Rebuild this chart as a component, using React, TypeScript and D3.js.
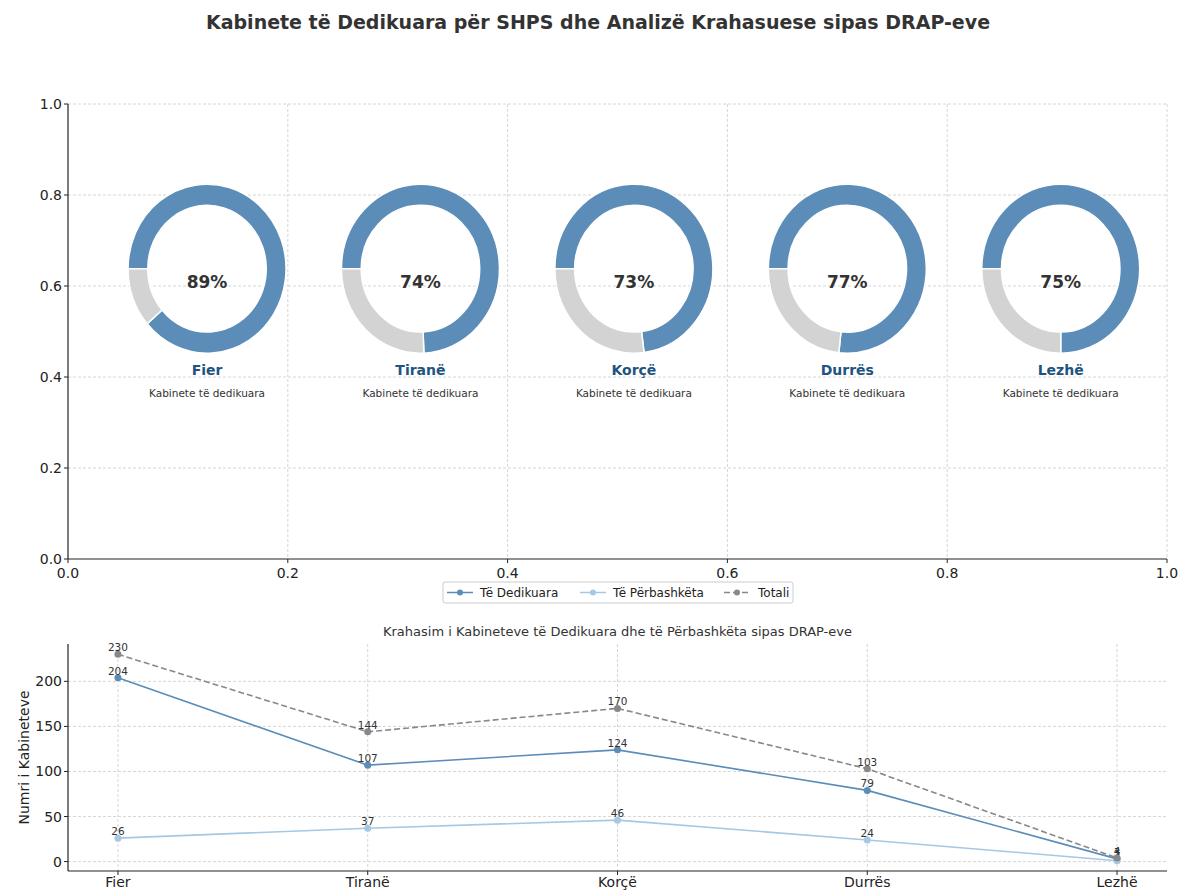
import * as d3 from "d3";

const regions = ["Fier", "Tiranë", "Korçë", "Durrës", "Lezhë"];
const dedicated = [204, 107, 124, 79, 3];
const shared = [26, 37, 46, 24, 1];
const totals = [230, 144, 170, 103, 4];
const unitTicks = [0, 0.2, 0.4, 0.6, 0.8, 1.0];
const countTicks = [0, 50, 100, 150, 200];

const W = 1182;
const H = 890;
const FONT = "DejaVu Sans, sans-serif";
const BLUE = "#5B8DB8";
const LIGHT = "#A6C8E2";
const GREY = "#888888";

const App = () => {
    // top panel (empty axes holding the donuts)
    const top = { left: 68, right: 1167, top: 104, bottom: 559 };
    const tx = d3.scaleLinear().domain([0, 1]).range([top.left, top.right]);
    const ty = d3.scaleLinear().domain([0, 1]).range([top.bottom, top.top]);

    // bottom panel (line chart)
    const bot = { left: 68, right: 1167, top: 644, bottom: 871 };
    const bx = d3.scaleLinear().domain([-0.2, regions.length - 1 + 0.2]).range([bot.left, bot.right]);
    const by = d3.scaleLinear().domain([-10.45, 241.45]).range([bot.bottom, bot.top]);

    const pie = d3.pie<number>().sort(null).startAngle(-Math.PI / 2).endAngle(Math.PI * 1.5);
    const arc = d3.arc<d3.PieArcDatum<number>>().innerRadius(0.75).outerRadius(1);

    const line = d3.line<number>().x((_, i) => bx(i)).y(d => by(d));

    const series = [
        { name: "Të Dedikuara", values: dedicated, color: BLUE, dash: "" },
        { name: "Të Përbashkëta", values: shared, color: LIGHT, dash: "" },
        { name: "Totali", values: totals, color: GREY, dash: "6,3" },
    ];

    const legendItems = [
        { x: 447, textX: 480 },
        { x: 580, textX: 613 },
        { x: 724, textX: 758 },
    ];

    return (
        <svg width={W} height={H} style={{ display: "block", position: "absolute", left: 0, top: 0, background: "#fff" }} fontFamily={FONT}>
            <text x={598} y={29} textAnchor="middle" fontSize={19} fontWeight="bold" fill="#333">
                Kabinete të Dedikuara për SHPS dhe Analizë Krahasuese sipas DRAP-eve
            </text>

            {/* top grid */}
            {unitTicks.slice(1).map(t => (
                <g key={"tg" + t}>
                    <line x1={tx(t)} x2={tx(t)} y1={top.top} y2={top.bottom} stroke="#ccc" strokeWidth={0.8} strokeDasharray="3,2" />
                    <line x1={top.left} x2={top.right} y1={ty(t)} y2={ty(t)} stroke="#ccc" strokeWidth={0.8} strokeDasharray="3,2" />
                </g>
            ))}
            <line x1={top.left} x2={top.left} y1={top.top} y2={top.bottom} stroke="#222" strokeWidth={1.2} />
            <line x1={top.left} x2={top.right} y1={top.bottom} y2={top.bottom} stroke="#222" strokeWidth={1.2} />
            {unitTicks.map(t => (
                <g key={"tt" + t} fontSize={14} fill="#222">
                    <line x1={top.left - 4} x2={top.left} y1={ty(t)} y2={ty(t)} stroke="#222" />
                    <text x={top.left - 6} y={ty(t) + 5} textAnchor="end">{t.toFixed(1)}</text>
                    <line x1={tx(t)} x2={tx(t)} y1={top.bottom} y2={top.bottom + 4} stroke="#222" />
                    <text x={tx(t)} y={top.bottom + 19} textAnchor="middle">{t.toFixed(1)}</text>
                </g>
            ))}

            {/* donuts */}
            {regions.map((r, i) => {
                const cx = tx(0.1265 + i * 0.1942);
                const cy = ty(0.638);
                const pct = Math.round((dedicated[i] / totals[i]) * 100);
                const arcs = pie([dedicated[i], totals[i] - dedicated[i]]);
                return (
                    <g key={r}>
                        <g transform={`translate(${cx},${cy}) scale(79,84.5)`}>
                            {arcs.map((a, k) => (
                                <path key={k} d={arc(a) || ""} fill={k === 0 ? BLUE : "#D3D3D3"} stroke="#fff" strokeWidth={1.5} vectorEffect="non-scaling-stroke" />
                            ))}
                        </g>
                        <text x={cx} y={cy + 19} textAnchor="middle" fontSize={17} fontWeight="bold" fill="#333">{pct}%</text>
                        <text x={cx} y={cy + 106} textAnchor="middle" fontSize={14} fontWeight="bold" fill="#1F5380">{r}</text>
                        <text x={cx} y={cy + 128} textAnchor="middle" fontSize={10.5} fill="#333">Kabinete të dedikuara</text>
                    </g>
                );
            })}

            {/* legend */}
            <rect x={443} y={582} width={350} height={21} fill="#fff" stroke="#ccc" strokeWidth={1} rx={2} />
            {series.map((s, i) => (
                <g key={"lg" + s.name}>
                    <line x1={legendItems[i].x} x2={legendItems[i].x + 26} y1={592.5} y2={592.5} stroke={s.color} strokeWidth={1.5} strokeDasharray={s.dash} />
                    <circle cx={legendItems[i].x + 13} cy={592.5} r={3} fill={s.color} />
                    <text x={legendItems[i].textX} y={597} fontSize={12} fill="#222">{s.name}</text>
                </g>
            ))}

            {/* bottom chart */}
            <text x={(bot.left + bot.right) / 2} y={636} textAnchor="middle" fontSize={13} fill="#333">
                Krahasim i Kabineteve të Dedikuara dhe të Përbashkëta sipas DRAP-eve
            </text>
            {regions.map((r, i) => (
                <line key={"bgx" + r} x1={bx(i)} x2={bx(i)} y1={bot.top} y2={bot.bottom} stroke="#ccc" strokeWidth={0.8} strokeDasharray="3,2" />
            ))}
            {countTicks.map(t => (
                <line key={"bgy" + t} x1={bot.left} x2={bot.right} y1={by(t)} y2={by(t)} stroke="#ccc" strokeWidth={0.8} strokeDasharray="3,2" />
            ))}
            <line x1={bot.left} x2={bot.left} y1={bot.top} y2={bot.bottom} stroke="#222" strokeWidth={1.2} />
            <line x1={bot.left} x2={bot.right} y1={bot.bottom} y2={bot.bottom} stroke="#222" strokeWidth={1.2} />
            {countTicks.map(t => (
                <g key={"byt" + t}>
                    <line x1={bot.left - 4} x2={bot.left} y1={by(t)} y2={by(t)} stroke="#222" />
                    <text x={bot.left - 6} y={by(t) + 5} textAnchor="end" fontSize={14} fill="#222">{t}</text>
                </g>
            ))}
            {regions.map((r, i) => (
                <g key={"bxt" + r}>
                    <line x1={bx(i)} x2={bx(i)} y1={bot.bottom} y2={bot.bottom + 4} stroke="#222" />
                    <text x={bx(i)} y={bot.bottom + 16} textAnchor="middle" fontSize={14} fill="#222">{r}</text>
                </g>
            ))}
            <text transform={`translate(29,${(bot.top + bot.bottom) / 2}) rotate(-90)`} textAnchor="middle" fontSize={14} fill="#222">
                Numri i Kabineteve
            </text>

            {series.map(s => (
                <g key={"s" + s.name}>
                    <path d={line(s.values) || ""} fill="none" stroke={s.color} strokeWidth={1.6} strokeDasharray={s.dash} />
                    {s.values.map((v, i) => (
                        <g key={i}>
                            <circle cx={bx(i)} cy={by(v)} r={3.5} fill={s.color} />
                            <text x={bx(i)} y={by(v) - 3} textAnchor="middle" fontSize={10.5} fill="#333">{v}</text>
                        </g>
                    ))}
                </g>
            ))}
        </svg>
    );
};

export default App;
